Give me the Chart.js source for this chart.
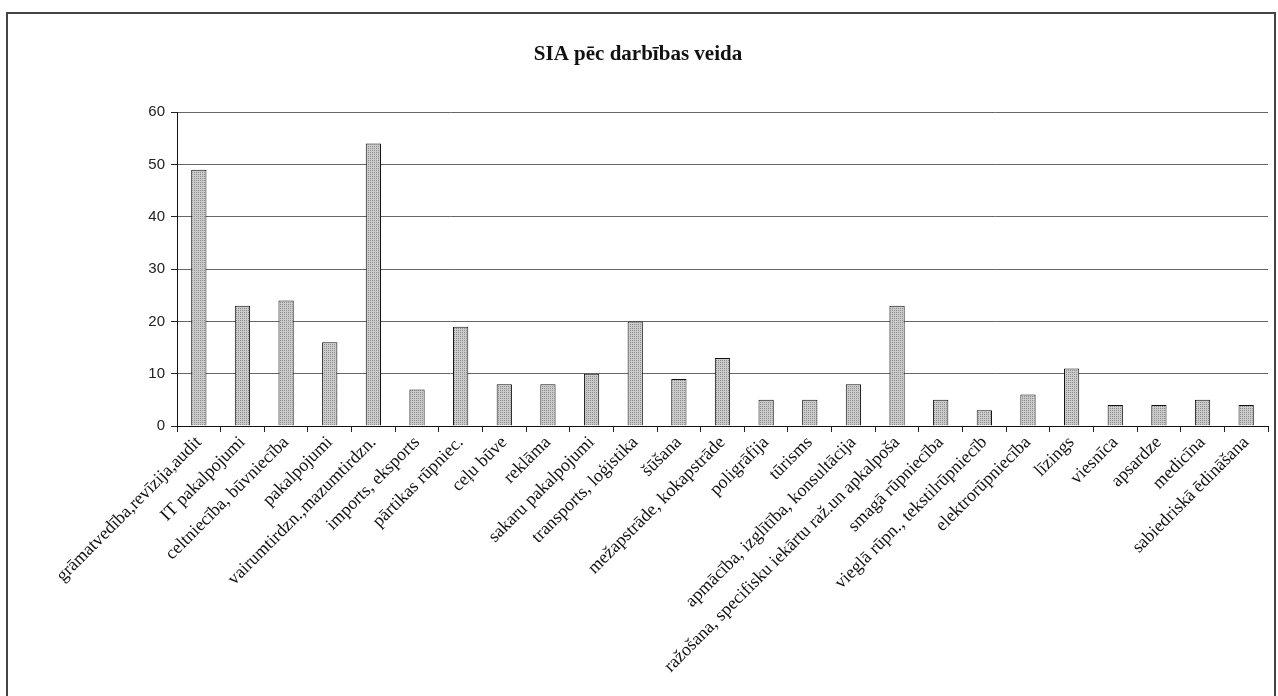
<!DOCTYPE html>
<html>
<head>
<meta charset="utf-8">
<script src="https://cdn.jsdelivr.net/npm/chart.js@4/dist/chart.umd.min.js"></script>
<style>
    body { margin: 0; background: #fff; }
    #frame {
        position: absolute; left: 6px; top: 12px; width: 1266px; height: 690px;
        border: 2px solid #444; border-bottom: none;
    }
    #wrap { position: relative; width: 1264px; height: 684px; }
</style>
</head>
<body>
<div id="frame"><div id="wrap"><canvas id="chart"></canvas></div></div>
<script>
    const TITLE = "SIA pēc darbības veida";

    const categories = [
        "grāmatvedība,revīzija,audit",
        "IT pakalpojumi",
        "celtniecība, būvniecība",
        "pakalpojumi",
        "vairumtirdzn.,mazumtirdzn.",
        "imports, eksports",
        "pārtikas rūpniec.",
        "ceļu būve",
        "reklāma",
        "sakaru pakalpojumi",
        "transports, loģistika",
        "šūšana",
        "mežapstrāde, kokapstrāde",
        "poligrāfija",
        "tūrisms",
        "apmācība, izglītība, konsultācija",
        "ražošana, specifisku iekārtu raž.un apkalpoša",
        "smagā rūpniecība",
        "vieglā rūpn., tekstilrūpniecīb",
        "elektrorūpniecība",
        "līzings",
        "viesnīca",
        "apsardze",
        "medicīna",
        "sabiedriskā ēdināšana"
    ];

    const counts = [49, 23, 24, 16, 54, 7, 19, 8, 8, 10, 20, 9, 13, 5, 5, 8, 23, 5, 3, 6, 11, 4, 4, 5, 4];

    const yTicks = [0, 10, 20, 30, 40, 50, 60];

    // stippled grey fill like the scanned excel bars
    function makePattern() {
        const c = document.createElement("canvas");
        c.width = 2;
        c.height = 2;
        const g = c.getContext("2d");
        g.fillStyle = "#cbcbcb";
        g.fillRect(0, 0, 2, 2);
        g.fillStyle = "#8e8e8e";
        g.fillRect(0, 0, 1, 1);
        return g.createPattern(c, "repeat");
    }

    const ctx = document.getElementById("chart");
    new Chart(ctx, {
        type: "bar",
        data: {
            labels: categories,
            datasets: [{
                data: counts,
                backgroundColor: makePattern(),
                borderColor: "#111",
                borderWidth: 1,
                barPercentage: 0.7,
                categoryPercentage: 0.5
            }]
        },
        options: {
            responsive: true,
            maintainAspectRatio: false,
            animation: false,
            layout: { padding: { left: 0, right: 4, top: 0, bottom: 0 } },
            plugins: {
                legend: { display: false },
                tooltip: { enabled: false },
                title: {
                    display: true,
                    text: TITLE,
                    color: "#111",
                    font: { family: "Liberation Serif", size: 21, weight: "bold" },
                    padding: { top: 28, bottom: 45 }
                }
            },
            scales: {
                x: {
                    grid: {
                        drawOnChartArea: false,
                        drawTicks: true,
                        tickLength: 6,
                        tickColor: "#222"
                    },
                    border: { display: true, color: "#111", width: 1 },
                    ticks: {
                        color: "#111",
                        font: { family: "Liberation Serif", size: 18 },
                        maxRotation: 45,
                        minRotation: 45,
                        autoSkip: false,
                        padding: 0
                    },
                    afterFit: (scale) => { scale.height = 272; }
                },
                y: {
                    min: 0,
                    max: 60,
                    afterBuildTicks: (scale) => {
                        scale.ticks = yTicks.map(v => ({ value: v }));
                    },
                    grid: {
                        color: "#666",
                        lineWidth: 1,
                        tickLength: 6,
                        tickColor: "#222"
                    },
                    border: { display: true, color: "#111", width: 1 },
                    ticks: {
                        color: "#222",
                        font: { family: "Liberation Sans", size: 15 },
                        padding: 6
                    },
                    afterFit: (scale) => { scale.width = 169; }
                }
            }
        }
    });
</script>
</body>
</html>
